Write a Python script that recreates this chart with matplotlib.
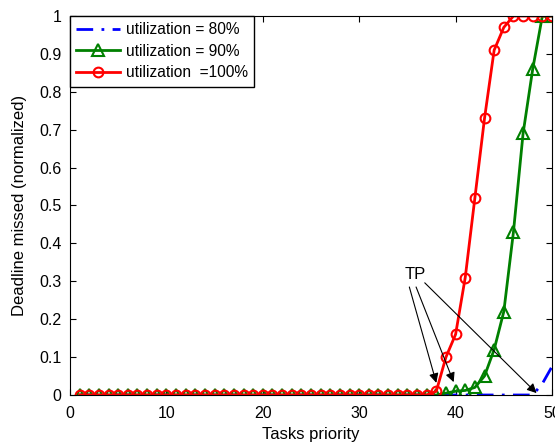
import numpy as np
import matplotlib.pyplot as plt

plt.rcParams['font.family'] = ['Liberation Sans', 'DejaVu Sans']
plt.rcParams['font.size'] = 11

prio = np.arange(1, 51)

u80 = [0.0] * 48 + [0.03, 0.075]
u90 = [0.0] * 38 + [0.005, 0.01, 0.012, 0.02, 0.05, 0.12, 0.22, 0.43, 0.69, 0.86, 1.0, 1.0]
u100 = [0.0] * 37 + [0.01, 0.10, 0.16, 0.31, 0.52, 0.73, 0.91, 0.97, 1.0, 1.0, 1.0, 1.0, 1.0]

fig = plt.figure(figsize=(5.55, 4.43), dpi=100)
ax = fig.add_axes([70 / 555, 48 / 443, 482 / 555, 379 / 443])

ax.plot(prio, u80, color='blue', ls='-.', lw=2, dashes=(6, 3, 1, 3),
        label='utilization = 80%')
ax.plot(prio, u90, color='green', lw=2, marker='^', ms=8, mfc='none', mew=1.5,
        label='utilization = 90%')
ax.plot(prio, u100, color='red', lw=2, marker='o', ms=7, mfc='none', mew=1.5,
        label='utilization  =100%')

ax.set_xlim(0, 50)
ax.set_ylim(0, 1)
ax.set_xticks(range(0, 51, 10))
ax.set_yticks(np.arange(0, 1.01, 0.1))
ax.set_yticklabels(['0', '0.1', '0.2', '0.3', '0.4', '0.5', '0.6', '0.7', '0.8', '0.9', '1'])
ax.tick_params(direction='in', top=True, right=True, length=4, labelsize=11.5)
ax.tick_params(axis='x', pad=8)
ax.tick_params(axis='y', pad=6)
ax.set_xlabel('Tasks priority', fontsize=12, labelpad=4)
ax.set_ylabel('Deadline missed (normalized)', fontsize=12, labelpad=9)

# TP arrows
ax.text(35.8, 0.317, 'TP', ha='center', va='center', fontsize=12)
arrows = [((35.2, 0.285), (38.0, 0.032)),
          ((35.9, 0.285), (39.8, 0.034)),
          ((36.8, 0.296), (48.4, 0.005))]
for start, end in arrows:
    ax.annotate('', xy=end, xytext=start,
                arrowprops=dict(arrowstyle='-|>', color='black', lw=0.8,
                                mutation_scale=14, shrinkA=0, shrinkB=0))

leg = ax.legend(loc='upper left', borderaxespad=0, fancybox=False,
                edgecolor='black', framealpha=1, handlelength=2.8,
                fontsize=11.2, labelspacing=0.42, borderpad=0.4, handletextpad=0.4)
leg.get_frame().set_linewidth(1)

fig.savefig('out.png', dpi=100)
